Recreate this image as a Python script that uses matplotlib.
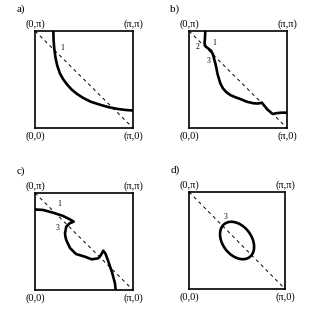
import numpy as np
import matplotlib
matplotlib.use('Agg')
import matplotlib.pyplot as plt

plt.rcParams['font.family'] = ['Liberation Serif', 'DejaVu Serif']

# curves in units of pi (x, y)
a_x = [0.187, 0.190, 0.197, 0.210, 0.228, 0.255, 0.289, 0.330, 0.374, 0.43, 0.493, 0.57, 0.663, 0.75, 0.834, 0.92, 1.0]
a_y = [1.0, 0.90, 0.813, 0.72, 0.639, 0.56, 0.5, 0.445, 0.396, 0.35, 0.309, 0.27, 0.24, 0.215, 0.198, 0.186, 0.180]

b_x = [0.166, 0.163, 0.158, 0.170, 0.195, 0.224, 0.245, 0.258, 0.270, 0.279, 0.290, 0.303, 0.319, 0.345, 0.38,
       0.421, 0.47, 0.520, 0.589, 0.656, 0.70, 0.724, 0.742, 0.760, 0.776, 0.800, 0.827, 0.845, 0.860, 0.878,
       0.895, 0.946, 1.0]
b_y = [1.0, 0.93, 0.87, 0.84, 0.82, 0.797, 0.756, 0.704, 0.66, 0.619, 0.56, 0.515, 0.461, 0.41, 0.37,
       0.340, 0.318, 0.300, 0.271, 0.255, 0.252, 0.255, 0.262, 0.24, 0.220, 0.19, 0.168, 0.150, 0.144, 0.150,
       0.153, 0.158, 0.158]

c_x = [0.0, 0.082, 0.184, 0.286, 0.354, 0.395, 0.354, 0.319, 0.306, 0.310, 0.319, 0.357, 0.418, 0.510, 0.579,
       0.646, 0.673, 0.697, 0.721, 0.755, 0.789, 0.816, 0.823]
c_y = [0.830, 0.825, 0.797, 0.763, 0.729, 0.704, 0.688, 0.653, 0.585, 0.55, 0.515, 0.433, 0.371, 0.343, 0.316,
       0.327, 0.361, 0.405, 0.371, 0.275, 0.172, 0.069, 0.0]

# ellipse in panel d (units of pi): centre, semi axes, tilt in degrees
d_center = (0.5, 0.5)
d_axes = (0.215, 0.15)
d_angle = -52

# numbered labels (x, y, text) in units of pi
a_labels = [(0.279, 0.826, '1')]
b_labels = [(0.092, 0.832, '2'), (0.252, 0.876, '1'), (0.201, 0.69, '3')]
c_labels = [(0.245, 0.887, '1'), (0.235, 0.636, '3')]
d_labels = [(0.378, 0.745, '3')]

corner_text = ['(0,\u03c0)', '(\u03c0,\u03c0)', '(0,0)', '(\u03c0,0)']
panel_names = ['a)', 'b)', 'c)', 'd)']

fig = plt.figure(figsize=(3.14, 3.09), dpi=100)
rects = [[0.1115, 0.5858, 0.312, 0.314], [0.602, 0.5858, 0.312, 0.314],
         [0.1115, 0.0615, 0.312, 0.314], [0.602, 0.0647, 0.306, 0.314]]

t = np.linspace(0, 2 * np.pi, 200)
ca, sa = np.cos(np.radians(d_angle)), np.sin(np.radians(d_angle))
ex = d_center[0] + d_axes[0] * np.cos(t) * ca - d_axes[1] * np.sin(t) * sa
ey = d_center[1] + d_axes[0] * np.cos(t) * sa + d_axes[1] * np.sin(t) * ca

curves = [(a_x, a_y), (b_x, b_y), (c_x, c_y), (ex, ey)]
labels = [a_labels, b_labels, c_labels, d_labels]

for i in range(4):
    ax = fig.add_axes(rects[i])
    ax.set_xlim(0, np.pi)
    ax.set_ylim(0, np.pi)
    ax.set_xticks([])
    ax.set_yticks([])
    for s in ax.spines.values():
        s.set_linewidth(1.2)
    ax.plot([0, np.pi], [np.pi, 0], color='black', lw=0.7, ls=(0, (3.5, 3.5)))
    x, y = curves[i]
    ax.plot(np.array(x) * np.pi, np.array(y) * np.pi, color='black', lw=1.9, clip_on=False,
            solid_capstyle='butt')
    for lx, ly, txt in labels[i]:
        ax.text(lx * np.pi, ly * np.pi, txt, fontsize=5.5, ha='center', va='center')
    ax.text(0, 1.02, corner_text[0], transform=ax.transAxes, fontsize=7.5, ha='center', va='bottom')
    ax.text(1, 1.02, corner_text[1], transform=ax.transAxes, fontsize=7.5, ha='center', va='bottom')
    ax.text(0, -0.04, corner_text[2], transform=ax.transAxes, fontsize=7.5, ha='center', va='top')
    ax.text(1, -0.04, corner_text[3], transform=ax.transAxes, fontsize=7.5, ha='center', va='top')
    ax.text(-0.19, 1.17, panel_names[i], transform=ax.transAxes, fontsize=8, ha='left', va='bottom')

plt.savefig('out.png', dpi=100)
